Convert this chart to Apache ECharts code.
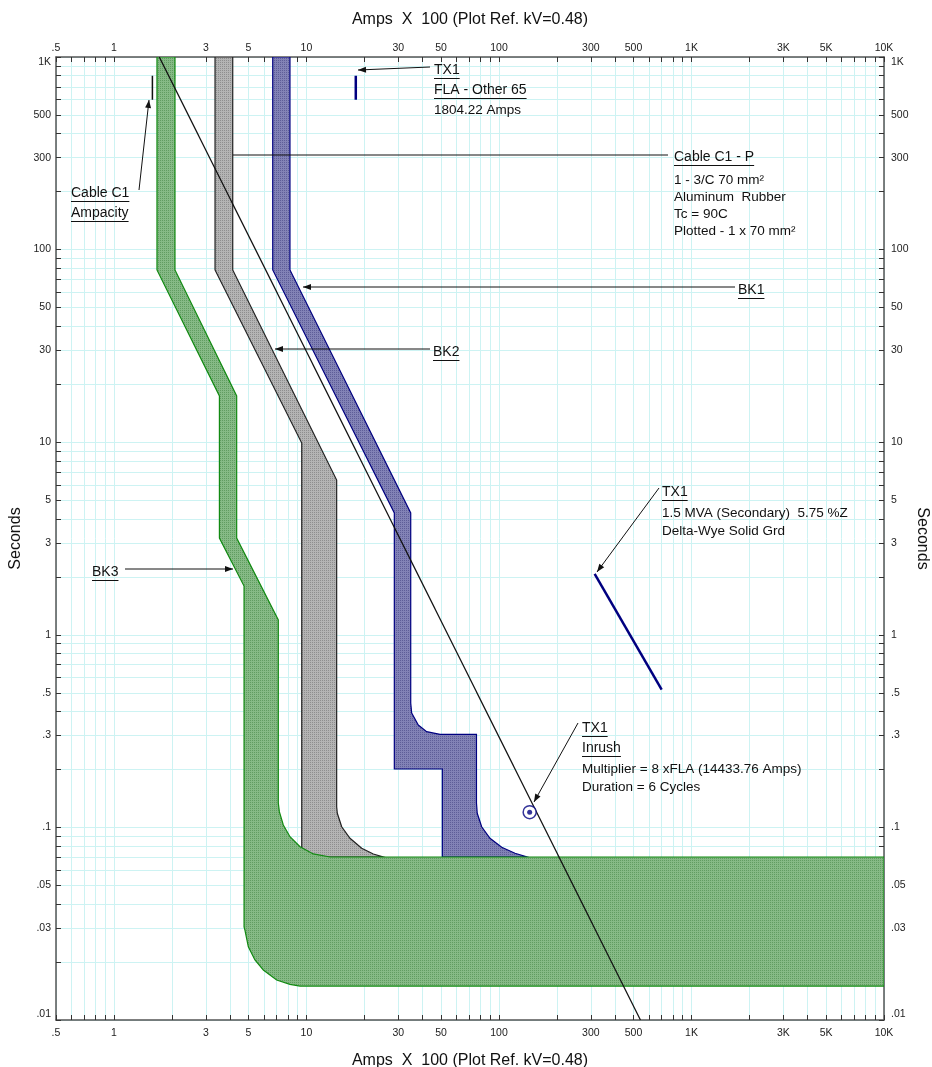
<!DOCTYPE html>
<html><head><meta charset="utf-8">
<script src="https://cdn.jsdelivr.net/npm/echarts@6/dist/echarts.min.js"></script>
<style>html,body{margin:0;padding:0;background:#fff}#c{width:932px;height:1067px}</style>
</head><body><div id="c"></div>
<script>
const FONT = '"Liberation Sans", Arial, Helvetica, sans-serif';

// ---- axis ranges & tick labels (Amps x100, Seconds) ----
const xRange = [0.5, 10000];
const yRange = [0.01, 1000];
const xLabelValues = [0.5, 1, 3, 5, 10, 30, 50, 100, 300, 500, 1000, 3000, 5000, 10000];
const yLabelValues = [0.01, 0.03, 0.05, 0.1, 0.3, 0.5, 1, 3, 5, 10, 30, 50, 100, 300, 500, 1000];

// ---- device curves: [amps x100, seconds] ----
const bk3Band = [
  [1.673, 1000], [1.673, 78.4], [3.53, 17.38], [3.53, 3.18], [4.74, 1.79], [4.74, 0.0304],
  [4.79, 0.0293], [4.99, 0.0240], [5.40, 0.0205], [5.97, 0.01818], [7.00, 0.01613], [8.21, 0.01532], [9.26, 0.0150],
  [10000, 0.0150], [10000, 0.0702],
  [13.25, 0.0702], [10.85, 0.0728], [9.26, 0.0794], [8.21, 0.0895], [7.58, 0.1029], [7.23, 0.1207], [7.14, 0.1338],
  [7.14, 1.194], [4.34, 3.18], [4.34, 17.38], [2.075, 78.4], [2.075, 1000]
];
const bk2Band = [
  [3.35, 1000], [3.35, 78.4], [9.45, 9.9], [9.45, 0.0702],
  [25.06, 0.0702], [22.24, 0.0728], [19.36, 0.0779], [16.83, 0.0878], [15.24, 0.1008], [14.46, 0.1184], [14.35, 0.128],
  [14.35, 6.36], [4.14, 78.4], [4.14, 1000]
];
const bk1Band = [
  [6.68, 1000], [6.68, 78.4], [28.6, 4.29], [28.6, 0.201], [50.8, 0.201], [50.8, 0.0702],
  [140, 0.0702], [121.1, 0.0734], [103.3, 0.0788], [89.8, 0.0878], [81.3, 0.1008], [77.1, 0.1184], [76.4, 0.1338],
  [76.4, 0.3043], [49.4, 0.3043], [42.1, 0.314], [38.1, 0.340], [35.2, 0.3926], [34.8, 0.4426],
  [34.8, 4.29], [8.21, 78.4], [8.21, 1000]
];
const cableDamage = [[1.72, 1000], [543, 0.01]];
const cableAmpacity = [[1.584, 600], [1.584, 800]];
const tx1Fla = [[18.04, 600], [18.04, 800]];
const tx1Damage = [[314, 2.07], [700, 0.519]];
const tx1Inrush = [[144.34, 0.12]];

const L = v => Math.log10(v);
const toLog = pts => pts.map(p => [L(p[0]), L(p[1])]);

function minorTicks(lo, hi) {
  const out = [];
  for (let d = -3; d <= 4; d++) for (let m = 1; m <= 9; m++) {
    const v = m * Math.pow(10, d);
    if (v >= lo * 0.9999 && v <= hi * 1.0001) out.push(L(v));
  }
  return out;
}
function fmt(lv) {
  const r = parseFloat(Math.pow(10, lv).toPrecision(3));
  if (r >= 1000) return (r / 1000) + 'K';
  if (r < 1) return String(r).replace(/^0/, '');
  return String(r);
}

function xAxisCfg(pos) {
  return {
    type: 'value', position: pos, min: L(xRange[0]), max: L(xRange[1]),
    name: 'Amps  X  100 (Plot Ref. kV=0.48)', nameLocation: 'middle',
    nameGap: pos === 'top' ? 29 : 33,
    nameTextStyle: { fontFamily: FONT, fontSize: 16, color: '#111' },
    axisLine: { show: true, onZero: false, lineStyle: { color: '#555', width: 1.5 } },
    axisTick: { show: true, inside: true, length: 5, customValues: minorTicks(xRange[0], xRange[1]), lineStyle: { color: '#333' } },
    axisLabel: { customValues: xLabelValues.map(L), formatter: fmt, fontSize: 10.5, color: '#222', margin: pos === 'top' ? 3 : 8, fontFamily: FONT },
    splitLine: { show: pos === 'bottom', lineStyle: { color: '#cdf3f3', width: 1 } }
  };
}
function yAxisCfg(pos) {
  return {
    type: 'value', position: pos, min: L(yRange[0]), max: L(yRange[1]),
    name: 'Seconds', nameLocation: 'middle', nameGap: pos === 'left' ? 32 : 30,
    nameMoveOverlap: false,
    nameRotate: pos === 'left' ? 90 : -90,
    nameTextStyle: { fontFamily: FONT, fontSize: 16, color: '#111' },
    axisLine: { show: true, onZero: false, lineStyle: { color: '#555', width: 1.5 } },
    axisTick: { show: true, inside: true, length: 5, customValues: minorTicks(yRange[0], yRange[1]), lineStyle: { color: '#333' } },
    axisLabel: { customValues: yLabelValues.map(L), formatter: fmt, fontSize: 10.5, color: '#222', margin: pos === 'left' ? 5 : 7, fontFamily: FONT,
      verticalAlignMaxLabel: 'top', verticalAlignMinLabel: 'bottom' },
    splitLine: { show: pos === 'left', lineStyle: { color: '#cdf3f3', width: 1 } }
  };
}

// stippled fill tile (2x2: three light pixels, one dark dot)
function stipple(light, dark) {
  const c = document.createElement('canvas'); c.width = 2; c.height = 2;
  const g = c.getContext('2d');
  g.fillStyle = light; g.fillRect(0, 0, 2, 2);
  g.fillStyle = dark; g.fillRect(0, 0, 1, 1);
  return { image: c, repeat: 'repeat' };
}

function polySeries(name, pts, fill, stroke, z) {
  const data = toLog(pts);
  return {
    type: 'custom', name, data, silent: true, animation: false, clip: true, z,
    encode: { x: 0, y: 1 },
    renderItem: (params, api) => {
      if (params.dataIndex !== 0) return null;
      const points = data.map(d => api.coord(d));
      return { type: 'polygon', shape: { points }, style: { fill, stroke, lineWidth: 1.2 } };
    }
  };
}
function lineSeries(pts, color, width) {
  return { type: 'line', data: toLog(pts), symbol: 'none', silent: true, animation: false,
    lineStyle: { color, width }, z: 4 };
}

// ---- annotation helpers (pixel positions) ----
const mctx = document.createElement('canvas').getContext('2d');
function tw(t, size) { mctx.font = size + 'px ' + FONT; return mctx.measureText(t).width; }
const graphics = [];
function textBlock(x, lines) {
  lines.forEach(l => {
    const size = l.s || 14;
    graphics.push({ type: 'text', x, y: l.y, z: 100,
      style: { text: l.t, font: size + 'px ' + FONT, fill: '#111', verticalAlign: 'middle', align: 'left' } });
    if (l.u) {
      const w = tw(l.t, size);
      const uy = Math.round(l.y + size * 0.55) + 0.5;
      graphics.push({ type: 'line', z: 100, shape: { x1: x, y1: uy, x2: x + w, y2: uy }, style: { stroke: '#111', lineWidth: 1 } });
    }
  });
}
function arrow(x1, y1, x2, y2, head) {
  graphics.push({ type: 'line', z: 100, shape: { x1, y1, x2, y2 }, style: { stroke: '#111', lineWidth: 1 } });
  if (head) {
    const a = Math.atan2(y2 - y1, x2 - x1), hl = 8, hw = 3;
    const bx = x2 - hl * Math.cos(a), by = y2 - hl * Math.sin(a);
    graphics.push({ type: 'polygon', z: 100, shape: { points: [[x2, y2],
      [bx + hw * Math.sin(a), by - hw * Math.cos(a)], [bx - hw * Math.sin(a), by + hw * Math.cos(a)]] },
      style: { fill: '#111' } });
  }
}

textBlock(434, [{ t: 'TX1', u: true, y: 70 }, { t: 'FLA - Other 65', u: true, y: 90 }, { t: '1804.22 Amps', y: 110, s: 13.5 }]);
arrow(430, 67, 358, 70, true);
textBlock(71, [{ t: 'Cable C1', u: true, y: 193 }, { t: 'Ampacity', u: true, y: 213 }]);
arrow(139, 190, 149, 100, true);
textBlock(674, [{ t: 'Cable C1 - P', u: true, y: 157 }, { t: '1 - 3/C 70 mm²', y: 180, s: 13.5 },
  { t: 'Aluminum  Rubber', y: 197, s: 13.5 }, { t: 'Tc = 90C', y: 214, s: 13.5 }, { t: 'Plotted - 1 x 70 mm²', y: 231, s: 13.5 }]);
arrow(233, 155, 668, 155, false);
textBlock(738, [{ t: 'BK1', u: true, y: 290 }]);
arrow(735, 287, 303, 287, true);
textBlock(433, [{ t: 'BK2', u: true, y: 352 }]);
arrow(430, 349, 275, 349, true);
textBlock(92, [{ t: 'BK3', u: true, y: 572 }]);
arrow(125, 569, 233, 569, true);
textBlock(662, [{ t: 'TX1', u: true, y: 492 }, { t: '1.5 MVA (Secondary)  5.75 %Z', y: 513, s: 13.5 }, { t: 'Delta-Wye Solid Grd', y: 531, s: 13.5 }]);
arrow(659, 488, 597, 572, true);
textBlock(582, [{ t: 'TX1', u: true, y: 728 }, { t: 'Inrush', u: true, y: 748 },
  { t: 'Multiplier = 8 xFLA (14433.76 Amps)', y: 769, s: 13.5 }, { t: 'Duration = 6 Cycles', y: 787, s: 13.5 }]);
arrow(578, 723, 534, 802, true);

const chart = echarts.init(document.getElementById('c'), null, { renderer: 'canvas' });
chart.setOption({
  animation: false,
  backgroundColor: '#fff',
  textStyle: { fontFamily: FONT },
  grid: { left: 56, right: 48, top: 57, bottom: 47, containLabel: false, outerBoundsMode: 'none' },
  xAxis: [xAxisCfg('bottom'), xAxisCfg('top')],
  yAxis: [yAxisCfg('left'), yAxisCfg('right')],
  series: [
    polySeries('BK2', bk2Band, stipple('#b4b4b4', '#8e8e8e'), '#222', 2),
    polySeries('BK1', bk1Band, stipple('#8282b6', '#5e5e98'), '#000080', 2),
    polySeries('BK3', bk3Band, stipple('#86ba86', '#619c61'), '#118a11', 3),
    lineSeries(cableDamage, '#111', 1.3),
    lineSeries(cableAmpacity, '#111', 1.5),
    lineSeries(tx1Fla, '#000080', 2.5),
    lineSeries(tx1Damage, '#000080', 2.5),
    { type: 'scatter', data: toLog(tx1Inrush), symbol: 'circle', symbolSize: 13, silent: true, z: 5,
      itemStyle: { color: '#fff', borderColor: '#000080', borderWidth: 1.5 } },
    { type: 'scatter', data: toLog(tx1Inrush), symbol: 'circle', symbolSize: 5, silent: true, z: 6,
      itemStyle: { color: '#000080' } }
  ],
  graphic: graphics
});
</script></body></html>
